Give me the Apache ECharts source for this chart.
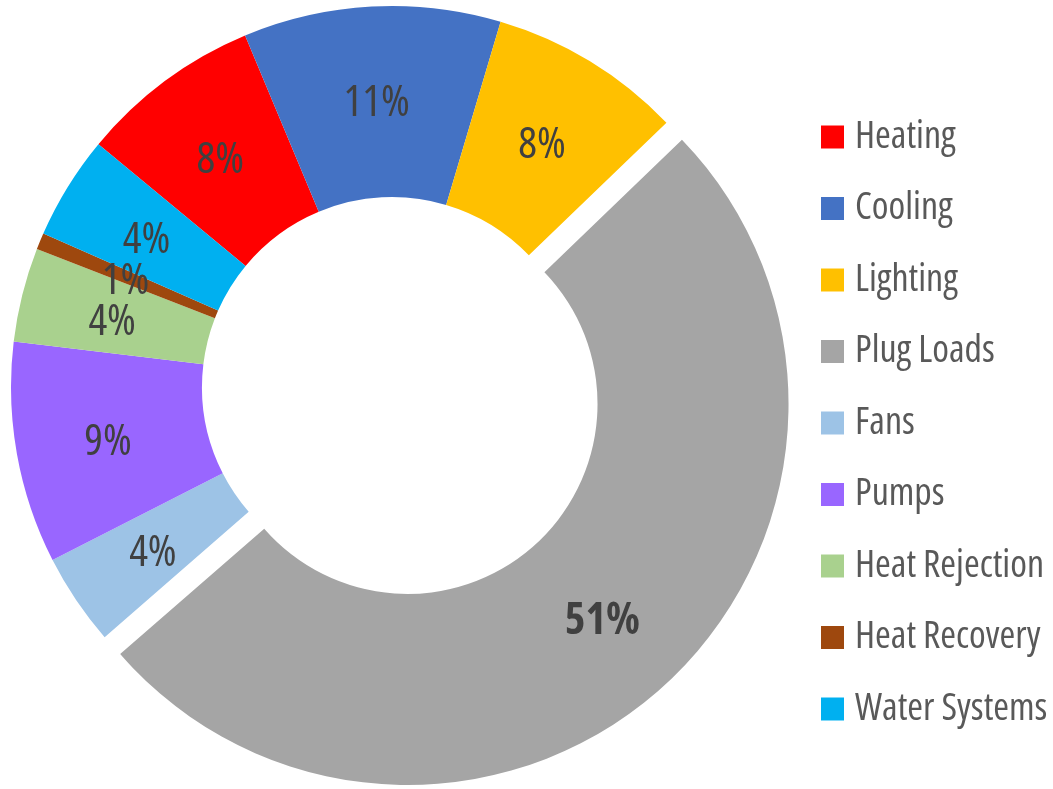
<!DOCTYPE html>
<html>
<head>
<meta charset="utf-8">
<script src="https://cdn.jsdelivr.net/npm/echarts@6/dist/echarts.min.js"></script>
<style>
  html, body { margin: 0; padding: 0; background: #fff; }
  #main { width: 1053px; height: 789px; }
</style>
</head>
<body>
<div id="main"></div>
<script>
// energy end uses (share, %)
var categories = ['Heating', 'Cooling', 'Lighting', 'Plug Loads', 'Fans', 'Pumps', 'Heat Rejection', 'Heat Recovery', 'Water Systems'];
var shares = [7.7, 10.9, 8.2, 50.8, 3.9, 9.4, 4.0, 0.7, 4.4];
var colors = ['#FF0000', '#4472C4', '#FFC000', '#A5A5A5', '#9DC3E6', '#9966FF', '#A9D18E', '#9E480E', '#00B0F0'];

// Open Sans with "condensed" stretch (passed through fontWeight)
var font = "'Open Sans', sans-serif";

var pieData = [];
for (let i = 0; i < categories.length; i++) {
  var item = { name: categories[i], value: shares[i] };
  if (categories[i] === 'Plug Loads') {
    item.selected = true;
    item.label = { fontWeight: 'bold condensed', offset: [0, 5] };
    item.select = { label: { offset: [0, 5] } };
  }
  pieData.push(item);
}

var chart = echarts.init(document.getElementById('main'));
chart.setOption({
  animation: false,
  color: colors,
  legend: {
    orient: 'vertical',
    left: 816,
    top: 113,
    icon: 'rect',
    itemWidth: 23,
    itemHeight: 23,
    itemGap: 33.5,
    selectedMode: false,
    textStyle: {
      fontFamily: font,
      fontWeight: 'normal condensed',
      fontSize: 38,
      color: '#595959',
      padding: [0, 0, 0, 6]
    },
    data: categories
  },
  series: [{
    type: 'pie',
    center: [392, 387],
    radius: [190, 381],
    startAngle: 140.4,
    clockwise: true,
    selectedMode: 'single',
    selectedOffset: 23,
    percentPrecision: 0,
    avoidLabelOverlap: false,
    minShowLabelAngle: 0,
    labelLayout: { hideOverlap: false },
    emphasis: { disabled: true },
    itemStyle: { borderWidth: 0 },
    label: {
      show: true,
      position: 'inside',
      formatter: '{d}%',
      fontFamily: font,
      fontWeight: 'normal condensed',
      fontSize: 44,
      color: '#404040',
      offset: [0, 5]
    },
    labelLine: { show: false },
    data: pieData
  }]
});
</script>
</body>
</html>
